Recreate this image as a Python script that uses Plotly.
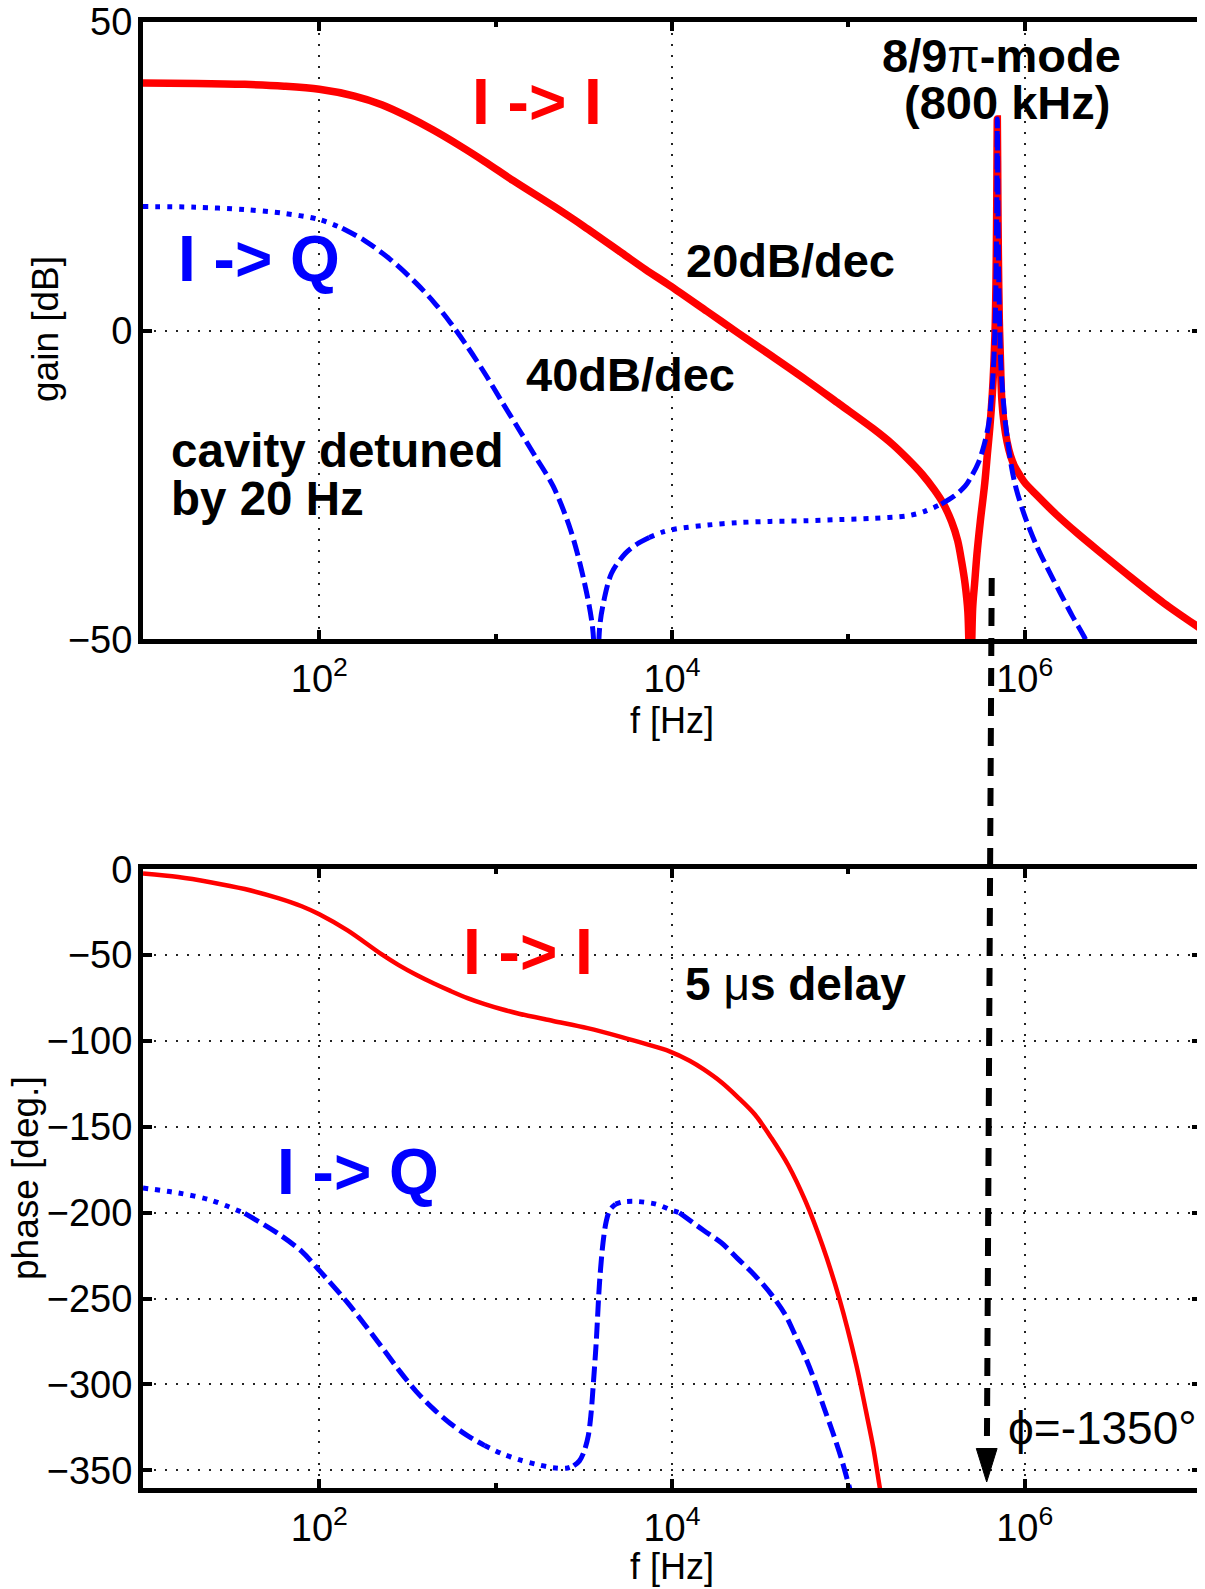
import plotly.graph_objects as go

FONT = "Liberation Sans, Arial, Helvetica, sans-serif"
RED = "#ff0000"
BLUE = "#0000ff"

# ---------------- data ----------------
# top panel: gain [dB] vs log10(f [Hz])
gain_ii_logf = [1.0, 1.3, 1.577, 1.8, 2.0, 2.2, 2.354, 2.5, 2.646, 2.8, 2.938, 3.1, 3.326, 3.5,
                3.715, 3.85, 3.988, 4.2, 4.371, 4.55, 4.757, 4.95, 5.142, 5.25, 5.334, 5.42,
                5.488, 5.54, 5.585, 5.62, 5.643, 5.662, 5.678, 5.692, 5.705, 5.716, 5.73, 5.748,
                5.774, 5.79, 5.803, 5.816, 5.826, 5.834, 5.839, 5.842, 5.845, 5.848, 5.851, 5.856,
                5.862, 5.870, 5.883, 5.90, 5.92, 5.943, 5.97, 6.0, 6.067, 6.18, 6.298,
                6.45, 6.6, 6.788, 7.0]
gain_ii_db = [40.1, 40.05, 39.9, 39.6, 39.1, 38.0, 36.6, 34.7, 32.5, 29.9, 27.4, 24.3, 20.2, 16.9,
              12.6, 9.9, 7.3, 3.1, -0.3, -3.8, -7.9, -11.9, -15.9, -18.4, -20.7, -23.3,
              -25.8, -28.1, -30.9, -34.0, -37.5, -41.0, -45.6, -60.0, -45.0, -41.0, -36.0, -31.0,
              -24.6, -19.5, -15.5, -10.5, -5.0, 2.0, 12.0, 22.0, 34.3, 22.0, 12.0, 2.0,
              -4.0, -11.0, -15.0, -18.0, -20.3, -22.0, -23.3, -24.6, -26.6, -29.8, -32.8,
              -36.4, -39.9, -44.1, -48.3]

gain_iq_logf = [1.0, 1.3, 1.577, 1.8, 2.0, 2.13, 2.257, 2.4, 2.549, 2.65, 2.743, 2.84, 2.938,
                3.035, 3.132, 3.23, 3.326, 3.424, 3.501, 3.55, 3.57, 3.59, 3.609, 3.657, 3.735,
                3.80, 3.871, 3.95, 4.027, 4.2, 4.371, 4.557, 4.757, 4.95, 5.142, 5.334, 5.43,
                5.527, 5.6, 5.662, 5.70, 5.739, 5.77, 5.797, 5.815, 5.826, 5.834, 5.839, 5.842,
                5.845, 5.848, 5.852, 5.858, 5.864, 5.878, 5.893, 5.925, 5.951, 6.0, 6.067, 6.13,
                6.202, 6.27, 6.336, 6.37]
gain_iq_db = [20.1, 20.0, 19.6, 19.0, 18.0, 16.6, 14.6, 11.6, 7.7, 4.6, 1.3, -2.6, -6.9,
              -11.5, -16.0, -20.6, -25.2, -32.2, -40.5, -48.2, -60.0, -48.0, -44.4, -39.3, -36.1,
              -34.6, -33.5, -32.6, -32.1, -31.5, -31.1, -30.9, -30.8, -30.6, -30.4, -30.0, -29.3,
              -28.1, -26.8, -25.2, -23.5, -21.3, -18.5, -14.9, -9.5, -4.1, 3.0, 12.0, 22.0,
              34.3, 22.0, 10.0, 2.0, -5.0, -11.0, -15.5, -22.0, -25.5, -30.0, -34.8, -38.5,
              -42.5, -46.2, -49.5, -51.5]

# bottom panel: phase [deg.] vs log10(f [Hz])
phase_ii_logf = [1.0, 1.2, 1.382, 1.577, 1.771, 1.9, 2.0, 2.16, 2.354, 2.45, 2.549, 2.65, 2.743,
                 2.84, 2.938, 3.035, 3.132, 3.326, 3.521, 3.715, 3.85, 3.986, 4.1, 4.178, 4.28,
                 4.371, 4.47, 4.564, 4.66, 4.757, 4.853, 4.949, 5.045, 5.1, 5.142, 5.18, 5.2]
phase_ii_deg = [-2.5, -4.5, -7.5, -11.5, -16.9, -21.5, -26.2, -35.6, -49.6, -55.8, -61.4, -66.5, -70.8,
                -75.0, -78.5, -81.5, -84.1, -88.3, -92.5, -97.7, -101.7, -106.0, -111.5, -116.4, -124.0,
                -132.5, -142.8, -156.5, -172.5, -193.3, -219.0, -250.0, -288.5, -315.5, -337.0, -361.0, -372.0]

phase_iq_logf = [1.0, 1.2, 1.382, 1.577, 1.771, 1.9, 2.0, 2.16, 2.354, 2.45, 2.549, 2.65, 2.743,
                 2.84, 2.938, 3.035, 3.132, 3.23, 3.326, 3.40, 3.443, 3.475, 3.501, 3.525, 3.54,
                 3.555, 3.57, 3.589, 3.609, 3.627, 3.647, 3.68, 3.715, 3.793, 3.91, 3.986, 4.042,
                 4.178, 4.28, 4.371, 4.47, 4.564, 4.64, 4.698, 4.76, 4.814, 4.86, 4.91, 4.96,
                 5.007, 5.03]
phase_iq_deg = [-185.6, -188.5, -192.6, -200.4, -212.5, -222.5, -233.6, -252.4, -278.2, -291.5, -304.0, -314.5, -322.7,
                -329.8, -335.6, -340.3, -343.8, -346.5, -348.5, -348.8, -347.4, -344.5, -339.1, -330.0, -318.0,
                -298.0, -275.8, -240.7, -217.3, -205.0, -198.5, -195.0, -193.8, -193.4, -195.0, -198.0, -200.0,
                -210.2, -217.5, -226.6, -236.5, -247.7, -259.0, -271.2, -285.0, -299.3, -313.0, -327.4, -343.0,
                -360.2, -368.0]

x_tick_vals = [1e2, 1e4, 1e6]
x_tick_text = ["10<sup>2</sup>", "10<sup>4</sup>", "10<sup>6</sup>"]
x_minor_vals = [1e3, 1e5]
gain_ticks = [-50, 0, 50]
phase_ticks = [-350, -300, -250, -200, -150, -100, -50, 0]

# ---------------- geometry ----------------
# The page adds an 8px body margin, so the figure is drawn 8px smaller and
# all label positions below are given in page pixels.
PAGE_OFF = 8
W, H = 1205 - PAGE_OFF, 1589 - PAGE_OFF
PL, PR, PT, PB = 143, 1201, 22, 1488          # plot area, page pixels
ML, MT = PL - PAGE_OFF, PT - PAGE_OFF
MR, MB = W - (PR - PAGE_OFF), H - (PB - PAGE_OFF)
PW, PH = PR - PL, PB - PT
TOP_DOM = [0.5789, 1.0]
BOT_DOM = [0.0, 0.42203]
PX_PER_DEC = PW / 6.0
PX_PER_DB = PH * (TOP_DOM[1] - TOP_DOM[0]) / 100.0
PX_PER_DEG = PH * (BOT_DOM[1] - BOT_DOM[0]) / 360.3


def xp(X):
    return (X - PL) / PW


def yp(Y):
    return 1 - (Y - PT) / PH


fig = go.Figure()


def add_line(logf, vals, color, width, xa, ya, dash="solid"):
    fig.add_trace(go.Scatter(x=[10 ** v for v in logf], y=vals, mode="lines",
                             line=dict(color=color, width=width, dash=dash,
                                       shape="spline", smoothing=0.9),
                             xaxis=xa, yaxis=ya, hoverinfo="skip", showlegend=False))


def add_styled(logf, vals, px_per_unit, color, width, xa, ya, thresh=0.5):
    # flat parts look dotted, steep parts dashed (as in the original rendering)
    runs, cur, cur_style = [], [], None
    for i in range(len(logf) - 1):
        dx = (logf[i + 1] - logf[i]) * PX_PER_DEC
        dy = abs(vals[i + 1] - vals[i]) * px_per_unit
        style = "16px,6px" if dy > thresh * dx else "5px,7px"
        if style != cur_style:
            if cur:
                runs.append((cur_style, cur))
            cur, cur_style = [i], style
        cur.append(i + 1)
    runs.append((cur_style, cur))
    for style, idx in runs:
        add_line([logf[j] for j in idx], [vals[j] for j in idx], color, width, xa, ya, style)


add_line(gain_ii_logf, gain_ii_db, RED, 7.5, "x", "y")
add_styled(gain_iq_logf, gain_iq_db, PX_PER_DB, BLUE, 5, "x", "y")
add_line(phase_ii_logf, phase_ii_deg, RED, 4.5, "x2", "y2")
add_styled(phase_iq_logf, phase_iq_deg, PX_PER_DEG, BLUE, 5, "x2", "y2")

tickfont = dict(family=FONT, size=38, color="black")
common = dict(ticks="inside", ticklen=9, tickwidth=4, tickcolor="black",
              showline=True, linewidth=5, linecolor="black", mirror="ticks",
              showgrid=True, gridcolor="#222222", gridwidth=2, griddash="2px,9px",
              zeroline=False, tickfont=tickfont, automargin=False,
              ticklabeloverflow="allow")


def xcfg(anchor):
    d = dict(type="log", range=[1, 7], anchor=anchor, domain=[0, 1],
             tickmode="array", tickvals=x_tick_vals, ticktext=x_tick_text,
             ticklabelstandoff=2,
             minor=dict(tickmode="array", tickvals=x_minor_vals, ticks="inside", ticklen=5,
                        tickwidth=4, tickcolor="black", showgrid=False))
    d.update(common)
    return d


def ycfg(anchor, dom, rng, ticks):
    d = dict(range=rng, anchor=anchor, domain=dom, tickmode="array", tickvals=ticks,
             ticklabelstandoff=-2)
    d.update(common)
    return d


fig.update_layout(
    width=W, height=H,
    margin=dict(l=ML, r=MR, t=MT, b=MB, autoexpand=False),
    paper_bgcolor="white", plot_bgcolor="white",
    showlegend=False,
    font=dict(family=FONT, color="black"),
    xaxis=xcfg("y"),
    yaxis=ycfg("x", TOP_DOM, [-50, 50], gain_ticks),
    xaxis2=xcfg("y2"),
    yaxis2=ycfg("x2", BOT_DOM, [-360.3, 0], phase_ticks),
)

# ---------------- labels (page pixel positions) ----------------
labels = [
    ("I -> I", 536.8, 102.5, 64, RED, "bold", "center", 0),
    ("I -> Q", 258.5, 259.5, 64, BLUE, "bold", "center", 0),
    ("20dB/dec", 790.6, 260.0, 47, "black", "bold", "center", 0),
    ("40dB/dec", 630.0, 374.5, 47, "black", "bold", "center", 0),
    ("cavity detuned", 169.0, 450.5, 47.5, "black", "bold", "left", 0),
    ("by 20 Hz", 169.0, 498.0, 47.5, "black", "bold", "left", 0),
    ("<b>8/9</b>π<b>-mode</b>", 1001.8, 55.0, 47, "black", "normal", "center", 0),
    ("(800 kHz)", 1006.9, 102.5, 47, "black", "bold", "center", 0),
    ("I -> I", 528.4, 951.5, 64, RED, "bold", "center", 0),
    ("I -> Q", 357.5, 1171.5, 64, BLUE, "bold", "center", 0),
    ("<b>5 </b>μ<b>s delay</b>", 795.4, 984.0, 46, "black", "normal", "center", 0),
    ("ϕ=-1350°", 1102.5, 1428.0, 46, "black", "normal", "center", 0),
    ("gain [dB]", 46.0, 329.0, 37, "black", "normal", "center", -90),
    ("phase [deg.]", 25.0, 1178.0, 37, "black", "normal", "center", -90),
    ("f [Hz]", 671.8, 720.5, 36, "black", "normal", "center", 0),
    ("f [Hz]", 671.8, 1566.0, 36, "black", "normal", "center", 0),
]
for text, X, Y, size, color, weight, xanchor, angle in labels:
    fig.add_annotation(text=text, x=xp(X), y=yp(Y), xref="paper", yref="paper",
                       xanchor=xanchor, yanchor="middle", showarrow=False, textangle=angle,
                       font=dict(family=FONT, size=size, color=color, weight=weight))

# dashed arrow from the 8/9 pi-mode down to the phase axis
fig.add_shape(type="line", xref="paper", yref="paper",
              x0=xp(991.7), y0=yp(578), x1=xp(986.9), y1=yp(1450),
              line=dict(color="black", width=6, dash="18px,12px"), layer="above")
fig.add_shape(type="path", xref="paper", yref="paper",
              path="M {:.5f},{:.5f} L {:.5f},{:.5f} L {:.5f},{:.5f} Z".format(
                  xp(976.3), yp(1448.5), xp(997.1), yp(1448.5), xp(986.7), yp(1482)),
              fillcolor="black", line=dict(color="black", width=1), layer="above")

fig.write_html("out.html")
